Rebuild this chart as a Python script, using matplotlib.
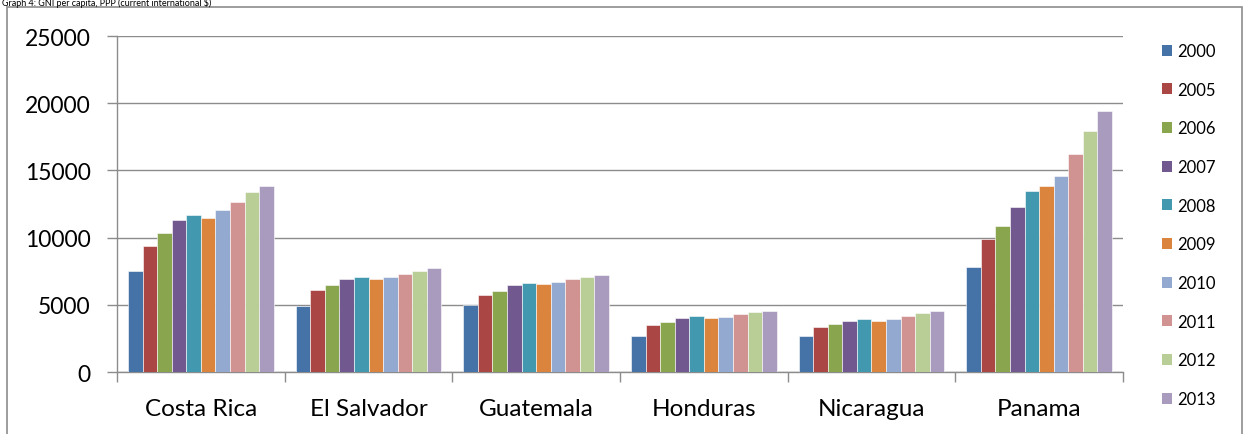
import numpy as np
import matplotlib.pyplot as plt
from matplotlib.patches import Rectangle, Patch

countries = ['Costa Rica', 'El Salvador', 'Guatemala', 'Honduras', 'Nicaragua', 'Panama']
years = ['2000', '2005', '2006', '2007', '2008', '2009', '2010', '2011', '2012', '2013']

# GNI per capita, PPP, one list per country (same order as years)
costa_rica = [7500, 9410, 10370, 11340, 11680, 11490, 12030, 12650, 13370, 13840]
el_salvador = [4900, 6090, 6490, 6910, 7080, 6910, 7050, 7300, 7530, 7720]
guatemala = [4980, 5720, 6040, 6460, 6630, 6540, 6680, 6910, 7080, 7230]
honduras = [2700, 3470, 3710, 3990, 4160, 4010, 4110, 4310, 4430, 4530]
nicaragua = [2700, 3340, 3540, 3790, 3910, 3810, 3910, 4160, 4380, 4550]
panama = [7820, 9930, 10870, 12300, 13440, 13840, 14580, 16210, 17920, 19410]

colors = ['#4572A7', '#AA4643', '#89A54E', '#71588F', '#4198AF',
          '#DB843D', '#93A9CF', '#D19392', '#B9CD96', '#A99BBD']

values = np.array([costa_rica, el_salvador, guatemala, honduras, nicaragua, panama])

plt.rcParams['font.family'] = ['Lato', 'DejaVu Sans']

fig = plt.figure(figsize=(12.44, 4.35), dpi=100)
ax = fig.add_axes([0.0941, 0.1425, 0.8086, 0.7724])

grid_col = '#8C8C8C'
n = len(years)
width = 1 / 11.5
x = np.arange(len(countries))
for j, year in enumerate(years):
    ax.bar(x + (j - (n - 1) / 2) * width, values[:, j], width,
           color=colors[j], edgecolor='white', linewidth=0.4, label=year, zorder=3)

ax.set_xlim(-0.5, len(countries) - 0.5)
ax.set_ylim(0, 25000)
ax.set_yticks(range(0, 25001, 5000))
ax.yaxis.grid(True, color=grid_col, linewidth=1.0, zorder=0)

# ticks on category boundaries, labels in the middle
ax.set_xticks(np.arange(len(countries) + 1) - 0.5)
ax.set_xticklabels([])
ax.set_xticks(x, minor=True)
ax.set_xticklabels(countries, minor=True, fontsize=17.5, color='black')
ax.tick_params(axis='x', which='major', length=7, color=grid_col, width=1)
ax.tick_params(axis='x', which='minor', length=0, pad=19)
ax.tick_params(axis='y', length=7, color=grid_col, width=1, pad=12, labelsize=16.5)

for s in ['top', 'right']:
    ax.spines[s].set_visible(False)
for s in ['left', 'bottom']:
    ax.spines[s].set_color(grid_col)
    ax.spines[s].set_linewidth(1.0)

handles = [Patch(facecolor=c, edgecolor='none') for c in colors]
fig.legend(handles, years, loc='upper left', bbox_to_anchor=(0.9284, 0.914),
           frameon=False, fontsize=12, handlelength=0.65, handleheight=0.65,
           handletextpad=0.3, labelspacing=1.36, borderaxespad=0)

# outer chart frame, bottom edge cut off like the source
fig.patches.append(Rectangle((0.0056, -0.05), 0.9928, 1.0316, transform=fig.transFigure,
                             fill=False, edgecolor=grid_col, linewidth=1.2))

# title squeezed into the strip above the frame
fig.text(0.002, 1 - 6.5 / 435, 'Graph 4: GNI per capita, PPP (current international $)',
         fontsize=6.5, va='baseline', ha='left')

fig.savefig('out.png', dpi=100)
